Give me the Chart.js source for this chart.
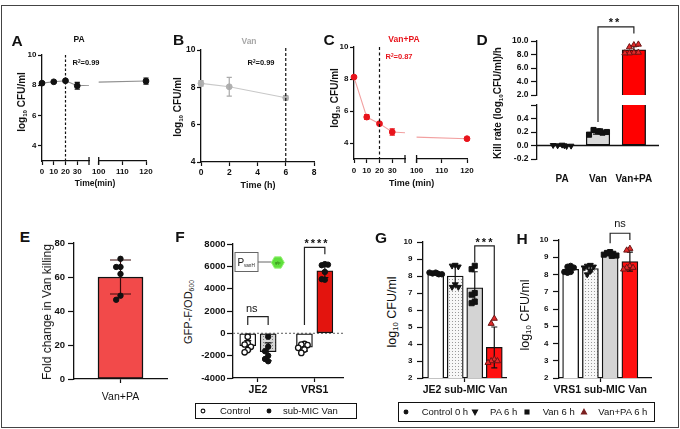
<!DOCTYPE html>
<html>
<head>
<meta charset="utf-8">
<title>Figure</title>
<script src="https://cdn.jsdelivr.net/npm/chart.js@4.4.1/dist/chart.umd.min.js"></script>
<style>
html, body { margin: 0; padding: 0; background: #fff; }
#fig { position: relative; width: 680px; height: 429px; overflow: hidden; background: #fff;
  font-family: 'Liberation Sans', Arial, sans-serif; color: #111; }
#fig canvas { position: absolute; }
.t { position: absolute; white-space: nowrap; line-height: 1; transform: translate(-50%, -50%); }
.t.r { transform: translate(-50%, -50%) rotate(-90deg); }
.l { position: absolute; white-space: nowrap; line-height: 1; transform: translateY(-50%); font-size: 9.5px; }
sub { font-size: 0.62em; vertical-align: baseline; position: relative; top: 0.28em; }
sup { font-size: 0.62em; vertical-align: baseline; position: relative; top: -0.45em; }
.frame { position: absolute; left: 1px; top: 5px; width: 678px; height: 423px; border: 1px solid #444; box-sizing: border-box; }
.legend { position: absolute; border: 1.5px solid #111; box-sizing: border-box; }
</style>
</head>
<body>
<div id="fig"><div class="frame"></div></div>
<script>
// ================= DATA =================
// A: PA alone
const timeA = [0, 10, 20, 30, 120];
const logCfuA = [8.14, 8.23, 8.3, 7.97, 8.28];
const sdA = [0.05, 0.05, 0.08, 0.22, 0.2];
// B: Van alone
const timeB = [0, 2, 6];
const logCfuB = [8.21, 8.03, 7.44];
const sdB = [0.15, 0.5, 0.12];
// C: Van+PA
const timeC = [0, 10, 20, 30, 120];
const logCfuC = [8.12, 5.62, 5.21, 4.69, 4.27];
const sdC = [0.06, 0.15, 0.08, 0.2, 0.08];
// D: kill rate
const killGroups = ['PA', 'Van', 'Van+PA'];
const killMean = [0.0, 0.2, 8.7];
const killSD = [0.01, 0.03, 0.55];
const killPA = [0.01, 0.0, -0.01, 0.005, -0.005, 0.0];
const killVan = [0.21, 0.23, 0.19, 0.16, 0.2, 0.21];
const killVanPA = [9.4, 9.1, 9.5, 8.3, 8.2, 8.3, 8.2];
// E: fold change
const foldGroup = ['Van+PA'];
const foldMean = [60];
const foldSD = [10];
const foldPts = [70.7, 65.9, 65.9, 61.8, 49, 46.6];
// F: GFP reporter
const strains = ['JE2', 'VRS1'];
const gfpControlMean = [-1100, -1250];
const gfpSubMicMean = [-1650, 5600];
const gfpControlSD = [450, 350];
const gfpSubMicSD = [800, 600];
const gfpJE2Control = [-300, -900, -1000, -1200, -1500, -1700];
const gfpJE2SubMic = [-300, -1200, -1600, -2000, -2300, -2500];
const gfpVRS1Control = [-950, -1000, -1050, -1300, -1450, -1750];
const gfpVRS1SubMic = [6200, 6100, 6150, 4800, 4850, 5500];
// G, H: 6 h counts
const treatments = ['Control 0 h', 'PA 6 h', 'Van 6 h', 'Van+PA 6 h'];
const groupLabelG = ['JE2 sub-MIC Van'];
const groupLabelH = ['VRS1 sub-MIC Van'];
const je2Mean = [8.15, 8.0, 7.3, 3.8];
const je2SD = [0.05, 0.6, 0.95, 1.2];
const je2Control = [8.2, 8.15, 8.1, 8.2, 8.1, 8.15];
const je2PA = [8.65, 8.6, 8.55, 7.5, 7.35, 7.35];
const je2Van = [8.6, 8.4, 7.0, 6.9, 6.5, 6.4];
const je2VanPA = [5.5, 5.2, 3.1, 3.0, 3.0, 2.9];
const vrs1Mean = [8.3, 8.35, 9.18, 8.75];
const vrs1SD = [0.18, 0.2, 0.1, 0.55];
const vrs1Control = [8.5, 8.45, 8.4, 8.15, 8.15, 8.1];
const vrs1PA = [8.55, 8.5, 8.45, 8.4, 8.2, 8.0];
const vrs1Van = [9.3, 9.25, 9.2, 9.15, 9.1, 9.08];
const vrs1VanPA = [9.5, 9.4, 8.5, 8.4, 8.4, 8.3];
// tick values
const ticksLogCfu = [4, 6, 8, 10];
const ticksMinEarly = [0, 10, 20, 30];
const ticksMinLate = [100, 110, 120];
const ticksHours = [0, 2, 4, 6, 8];
const ticksKillHigh = [2, 4, 6, 8, 10];
const ticksKillLow = [-0.2, 0, 0.2, 0.4];
const ticksFold = [0, 20, 40, 60, 80];
const ticksGfp = [-4000, -2000, 0, 2000, 4000, 6000, 8000];
const ticksLogCfu2 = [2, 3, 4, 5, 6, 7, 8, 9, 10];

// ================= RENDERING =================
const FIG = document.getElementById('fig');
Chart.defaults.font.family = "'Liberation Sans', Arial, sans-serif";
Chart.defaults.color = '#111';

function axis(min, max, ticks, o = {}) {
  return {
    type: 'linear', min, max, bounds: 'data', offset: false,
    display: o.display !== false,
    border: { display: o.border !== false, color: '#111', width: 1.3 },
    grid: { display: o.grid !== false, drawOnChartArea: false, drawTicks: true, offset: false,
      tickLength: o.tl ?? 4, tickColor: '#111', tickWidth: 1.2, color: '#111' },
    ticks: {
      autoSkip: false, maxRotation: 0, minRotation: 0, padding: o.pad ?? 2, color: '#111',
      font: { size: o.fs || 8, weight: o.fw || 'bold' },
      callback: (v, i) => o.labels ? o.labels[i] : (o.fmt ? o.fmt(v) : String(v)),
    },
    afterBuildTicks: s => { s.ticks = ticks.map(value => ({ value })); },
  };
}

function drawRefLines(chart, lines) {
  if (!lines) return;
  const { ctx, chartArea: a, scales: { x, y } } = chart;
  lines.forEach(L => {
    ctx.save();
    ctx.strokeStyle = L.color || '#111'; ctx.lineWidth = L.width || 1; ctx.setLineDash(L.dash || []);
    ctx.beginPath();
    if (L.x !== undefined) { const px = x.getPixelForValue(L.x); ctx.moveTo(px, a.top - (L.ext || 0)); ctx.lineTo(px, a.bottom); }
    else { const py = y.getPixelForValue(L.y); ctx.moveTo(a.left, py); ctx.lineTo(a.right, py); }
    ctx.stroke(); ctx.restore();
  });
}
function drawErrors(chart, ds) {
  if (!ds || !ds.errors) return;
  const { ctx, scales: { x, y } } = chart;
  ctx.save(); ctx.strokeStyle = ds.errColor || '#111'; ctx.lineWidth = ds.errWidth || 1.2;
  ds.data.forEach((d, i) => {
    if (d.x < x.min || d.x > x.max || d.y < y.min || d.y > y.max) return;
    const e = ds.errors[i]; if (!e) return;
    const px = x.getPixelForValue(d.x);
    const y1 = y.getPixelForValue(d.y + e), y2 = y.getPixelForValue(d.y - e);
    const c = ds.capW || 3;
    ctx.beginPath();
    ctx.moveTo(px, y1); ctx.lineTo(px, y2);
    ctx.moveTo(px - c, y1); ctx.lineTo(px + c, y1);
    ctx.moveTo(px - c, y2); ctx.lineTo(px + c, y2);
    ctx.stroke();
  });
  ctx.restore();
}
function drawCaps(chart, caps) {
  if (!caps) return;
  const { ctx, chartArea: a } = chart;
  ctx.save(); ctx.strokeStyle = '#111'; ctx.lineWidth = 1.3;
  caps.forEach(side => {
    const px = side === 'left' ? a.left : a.right;
    ctx.beginPath(); ctx.moveTo(px, a.bottom - 4); ctx.lineTo(px, a.bottom + 4); ctx.stroke();
  });
  ctx.restore();
}
function drawBrackets(chart, list) {
  if (!list) return;
  const { ctx, scales: { x, y } } = chart;
  ctx.save(); ctx.strokeStyle = '#222'; ctx.lineWidth = 1.2;
  list.forEach(b => {
    const x1 = x.getPixelForValue(b.x1), x2 = x.getPixelForValue(b.x2), yt = y.getPixelForValue(b.top);
    ctx.beginPath();
    ctx.moveTo(x1, y.getPixelForValue(b.yl)); ctx.lineTo(x1, yt); ctx.lineTo(x2, yt); ctx.lineTo(x2, y.getPixelForValue(b.yr));
    ctx.stroke();
  });
  ctx.restore();
}
function deco(spec) {
  return {
    id: 'deco',
    beforeDatasetsDraw(chart) { drawRefLines(chart, spec.under); },
    afterDatasetDraw(chart, args) { drawErrors(chart, chart.data.datasets[args.index]); },
    afterDatasetsDraw(chart) { drawRefLines(chart, spec.over); drawCaps(chart, spec.caps); },
    afterDraw(chart) { drawBrackets(chart, spec.brackets); },
  };
}

// area = chart area in page pixels; pad = room around it (left = y-axis width, bottom = x-axis height)
function mk(area, pad, scales, datasets, spec) {
  const W = Math.round(area.r - area.l + pad.l + pad.r);
  const H = Math.round(area.b - area.t + pad.t + pad.b);
  const cv = document.createElement('canvas');
  cv.width = W; cv.height = H;
  cv.style.left = (area.l - pad.l) + 'px'; cv.style.top = (area.t - pad.t) + 'px';
  cv.style.width = W + 'px'; cv.style.height = H + 'px';
  FIG.appendChild(cv);
  const xShow = scales.x.display !== false, yShow = scales.y.display !== false;
  if (xShow) scales.x.afterFit = s => { s.height = pad.b; };
  if (yShow) scales.y.afterFit = s => { s.width = pad.l; };
  return new Chart(cv, {
    type: 'scatter',
    data: { datasets },
    options: {
      responsive: false, animation: false, events: [],
      layout: { padding: { left: yShow ? 0 : pad.l, right: pad.r, top: pad.t, bottom: xShow ? 0 : pad.b } },
      scales,
      plugins: { legend: { display: false }, tooltip: { enabled: false } },
    },
    plugins: [deco(spec || {})],
  });
}

function lineDs(xs, ys, sd, col, clip) {
  return {
    type: 'line', data: xs.map((x, i) => ({ x, y: ys[i] })), order: 1, clip,
    borderColor: col.line, borderWidth: 1.1, tension: 0, fill: false,
    pointStyle: 'circle', pointRadius: 2.9, pointBackgroundColor: col.pt, pointBorderColor: col.pt, pointBorderWidth: 1,
    errors: sd, errColor: col.err, capW: 2.6,
  };
}
function barsDs(pts, colors, sd, o = {}) {
  return Object.assign({
    type: 'bar', data: pts, backgroundColor: colors, borderColor: '#111', borderWidth: 1.3,
    borderSkipped: false, barThickness: 16, order: 5, clip: 0, errors: sd, errColor: '#111', capW: 3.5,
  }, o);
}
function ptsDs(pts, style) {
  return Object.assign({ type: 'scatter', data: pts, order: 1, clip: 6, pointRadius: 2.7, pointBorderWidth: 1 }, style);
}
// simple dot-plot layout: points with similar values are spread sideways
function swarm(vals, cx, step, tolY, maxK = 4) {
  const placed = [];
  return vals.map((v, i) => {
    let x = null;
    for (let k = 0; k <= maxK; k++) {
      const c = cx + (k === 0 ? 0 : (k % 2 ? -1 : 1) * Math.ceil(k / 2) * step);
      if (!placed.some(p => Math.abs(p.x - c) < step * 0.95 && Math.abs(p.y - v) < tolY)) { x = c; break; }
    }
    if (x === null) x = cx + ((i % 3) - 1) * step * 0.5;
    placed.push({ x, y: v });
    return { x, y: v };
  });
}
function dotPattern(bg, dot, size) {
  const c = document.createElement('canvas'); c.width = c.height = size;
  const g = c.getContext('2d'); g.fillStyle = bg; g.fillRect(0, 0, size, size);
  g.fillStyle = dot; g.fillRect(0, 0, 1, 1);
  return g.createPattern(c, 'repeat');
}
const ST = {
  dot: { pointStyle: 'circle', pointBackgroundColor: '#111', pointBorderColor: '#111' },
  ring: { pointStyle: 'circle', pointBackgroundColor: '#fff', pointBorderColor: '#111', pointBorderWidth: 1.3 },
  triDown: { pointStyle: 'triangle', pointRotation: 180, pointRadius: 3.3, pointBackgroundColor: '#111', pointBorderColor: '#111' },
  square: { pointStyle: 'rect', pointRadius: 3.6, pointBackgroundColor: '#111', pointBorderColor: '#111' },
  triRed: { pointStyle: 'triangle', pointRadius: 3.5, pointBackgroundColor: '#e42a2a', pointBorderColor: '#6a1414' },
};

// ---------- A ----------
const colA = { line: '#8f8f8f', pt: '#111', err: '#111' };
mk({ l: 41.7, r: 89.7, t: 55, b: 161 }, { l: 30, t: 12, r: 4, b: 22 },
  { x: axis(0, 40, ticksMinEarly, { fs: 8, pad: 2 }), y: axis(3, 10, ticksLogCfu, { fs: 8, pad: 1.5 }) },
  [lineDs(timeA, logCfuA, sdA, colA, { left: 8, top: 8, right: 0, bottom: 8 })],
  { over: [{ x: 20, dash: [2.5, 2], width: 1.2 }], caps: ['right'] });
mk({ l: 98.3, r: 146.7, t: 55, b: 161 }, { l: 8, t: 12, r: 12, b: 22 },
  { x: axis(100, 120, ticksMinLate, { fs: 8, pad: 2 }), y: axis(3, 10, ticksLogCfu, { display: false }) },
  [lineDs(timeA, logCfuA, sdA, colA, { left: 0, top: 8, right: 8, bottom: 8 })],
  { caps: ['left'] });

// ---------- B ----------
const colB = { line: '#c8c8c8', pt: '#b0b0b0', err: '#aaaaaa' };
mk({ l: 201, r: 313.5, t: 50, b: 161.7 }, { l: 26, t: 12, r: 12, b: 22 },
  { x: axis(0, 8, ticksHours, { fs: 8.5, pad: 1.2 }), y: axis(4, 10, ticksLogCfu, { fs: 8.5, pad: 1.5 }) },
  [lineDs(timeB, logCfuB, sdB, colB, 8)],
  { over: [{ x: 6, dash: [3, 2], width: 1.2, ext: 2 }] });

// ---------- C ----------
const colC = { line: '#f2a0a0', pt: '#e8141c', err: '#e8141c' };
mk({ l: 354, r: 406.4, t: 46.7, b: 158.3 }, { l: 25, t: 12, r: 4, b: 22 },
  { x: axis(0, 40, ticksMinEarly, { fs: 8, pad: 2.9 }), y: axis(3, 10, ticksLogCfu, { fs: 8, pad: 1.5 }) },
  [lineDs(timeC, logCfuC, sdC, colC, { left: 8, top: 8, right: 0, bottom: 8 })],
  { over: [{ x: 20, dash: [3, 2.5], width: 1.2 }], caps: ['right'] });
mk({ l: 415, r: 467.3, t: 46.7, b: 158.3 }, { l: 8, t: 12, r: 12, b: 22 },
  { x: axis(100, 120, ticksMinLate, { fs: 8, pad: 2.9 }), y: axis(3, 10, ticksLogCfu, { display: false }) },
  [lineDs(timeC, logCfuC, sdC, colC, { left: 0, top: 8, right: 8, bottom: 8 })],
  { caps: ['left'] });

// ---------- D (broken y axis: two stacked charts) ----------
const killIdx = killGroups.map((g, i) => i);
const killBarsData = killMean.map((v, i) => ({ x: i, y: v }));
const killColors = ['#ffffff', '#d9d9d9', '#ff0000'];
function killDatasets(skip) {
  return [
    barsDs(killBarsData, killColors, killSD, { barThickness: 23.5, borderSkipped: skip, capW: 5 }),
    ptsDs(swarm(killPA, 0, 0.125, 0.09), ST.triDown),
    ptsDs(swarm(killVan, 1, 0.125, 0.09), ST.square),
    ptsDs(swarm(killVanPA, 2, 0.125, 0.9), ST.triRed),
  ];
}
mk({ l: 536.7, r: 658.3, t: 40.7, b: 94.7 }, { l: 34, t: 26, r: 12, b: 32 },
  { x: axis(-0.7, 2.7, killIdx, { display: false }),
    y: axis(2, 10, ticksKillHigh, { fs: 8.5, tl: 6, pad: 2.5, fmt: v => v.toFixed(1) }) },
  killDatasets('start'),
  { brackets: [{ x1: 1, x2: 2, yl: -2.0, yr: 11.1, top: 12.1 }] });
mk({ l: 536.7, r: 658.3, t: 105.3, b: 158.9 }, { l: 34, t: 8, r: 12, b: 26 },
  { x: axis(-0.7, 2.7, killIdx, { labels: killGroups, grid: false, border: false, fs: 10, pad: 10 }),
    y: axis(-0.2, 0.6, [...ticksKillLow, 0.6], { fs: 8.5, tl: 6, pad: 2.5, fmt: v => v > 0.5 ? '' : v.toFixed(1) }) },
  killDatasets(false),
  { over: [{ y: 0, width: 1.3 }] });

// ---------- E ----------
mk({ l: 74, r: 166.7, t: 243.3, b: 379.3 }, { l: 26, t: 10, r: 10, b: 30 },
  { x: axis(-1, 1, [0], { labels: foldGroup, fs: 10.5, fw: 'normal', pad: 7.4 }),
    y: axis(0, 80, ticksFold, { fs: 9.5, tl: 6, pad: 3 }) },
  [barsDs(foldMean.map((v, i) => ({ x: i, y: v })), ['#f24a4a'], foldSD, { barThickness: 45, capW: 10.5, errColor: '#3b0b0b', borderWidth: 1.5 }),
   ptsDs(swarm(foldPts, 0, 0.093, 3), ST.dot)], {});

// ---------- F ----------
const OFF = 0.18;
const gfpBars = [], gfpErr = [];
strains.forEach((s, i) => {
  gfpBars.push({ x: i - OFF, y: gfpControlMean[i] }, { x: i + OFF, y: gfpSubMicMean[i] });
  gfpErr.push(gfpControlSD[i], gfpSubMicSD[i]);
});
const grayDots = dotPattern('#d6d6d6', '#7a7a7a', 3);
mk({ l: 233.3, r: 343.3, t: 244.3, b: 378 }, { l: 36, t: 16, r: 10, b: 22 },
  { x: axis(-0.44, 1.5, [0, 1], { labels: strains, fs: 10.5, pad: 1.7 }),
    y: axis(-4000, 8000, ticksGfp, { fs: 9.5, tl: 6, pad: 1.5 }) },
  [barsDs(gfpBars, ['#ffffff', grayDots, '#ffffff', '#e3140e'], gfpErr, { capW: 3.5 }),
   ptsDs(swarm(gfpJE2Control, -OFF, 0.055, 480), ST.ring),
   ptsDs(swarm(gfpJE2SubMic, OFF, 0.055, 480), ST.dot),
   ptsDs(swarm(gfpVRS1Control, 1 - OFF, 0.055, 480), ST.ring),
   ptsDs(swarm(gfpVRS1SubMic, 1 + OFF, 0.055, 480), ST.dot)],
  { under: [{ y: 0, dash: [2, 2], color: '#777', width: 1.2 }],
    brackets: [{ x1: -OFF, x2: OFF, yl: 750, yr: 750, top: 1500 },
               { x1: 1 - OFF, x2: 1 + OFF, yl: 750, yr: 7080, top: 7700 }] });

// ---------- G & H ----------
const lightDots = dotPattern('#f7f7f7', '#9a9a9a', 3);
const ghColors = ['#ffffff', lightDots, '#d4d4d4', '#ff1010'];
function ghDatasets(means, sd, ctl, pa, van, vanpa) {
  return [
    barsDs(means.map((v, i) => ({ x: i, y: v })), ghColors, sd, { capW: 3 }),
    ptsDs(swarm(ctl, 0, 0.16, 0.3), ST.dot),
    ptsDs(swarm(pa, 1, 0.16, 0.3), ST.triDown),
    ptsDs(swarm(van, 2, 0.16, 0.3), ST.square),
    ptsDs(swarm(vanpa, 3, 0.16, 0.3), ST.triRed),
  ];
}
const ghCenter = [(treatments.length - 1) / 2];
mk({ l: 423.3, r: 506.7, t: 241.7, b: 377.7 }, { l: 22, t: 14, r: 10, b: 22 },
  { x: axis(-0.65, 3.6, ghCenter, { labels: groupLabelG, fs: 10.5, pad: 2 }),
    y: axis(2, 10, ticksLogCfu2, { fs: 8, tl: 6, pad: 4.5 }) },
  ghDatasets(je2Mean, je2SD, je2Control, je2PA, je2Van, je2VanPA),
  { brackets: [{ x1: 2, x2: 3, yl: 8.8, yr: 5.69, top: 9.77 }] });
mk({ l: 559.3, r: 651.7, t: 240, b: 377.7 }, { l: 22, t: 30, r: 12, b: 22 },
  { x: axis(-0.59, 4.07, ghCenter, { labels: groupLabelH, fs: 10.5, pad: 2 }),
    y: axis(2, 10, ticksLogCfu2, { fs: 8, tl: 6, pad: 4.5 }) },
  ghDatasets(vrs1Mean, vrs1SD, vrs1Control, vrs1PA, vrs1Van, vrs1VanPA),
  { brackets: [{ x1: 2, x2: 3, yl: 9.81, yr: 10.0, top: 10.39 }] });

// ================= TEXT / ANNOTATIONS =================
function label(html, x, y, style, cls = 't') {
  const d = document.createElement('div');
  d.className = cls; d.innerHTML = html;
  d.style.left = x + 'px'; d.style.top = y + 'px';
  if (style) d.style.cssText += style;
  FIG.appendChild(d);
  return d;
}
[['A', 17, 41], ['B', 178.5, 40], ['C', 329, 40], ['D', 482, 40],
 ['E', 25, 237], ['F', 180, 237], ['G', 381, 238], ['H', 522, 239]]
  .forEach(([s, x, y]) => label(s, x, y, 'font-weight:bold;font-size:15.5px;'));

const B85 = 'font-weight:bold;font-size:8.5px;';
label('PA', 79, 38.5, B85);
label('Van', 249, 41, B85 + 'color:#a8a8a8;');
label('Van+PA', 404, 38.5, B85 + 'color:#e8141c;');
const R2 = 'font-weight:bold;font-size:7.5px;';
label('R<sup>2</sup>=0.99', 86, 62.7, R2);
label('R<sup>2</sup>=0.99', 261, 62.7, R2);
label('R<sup>2</sup>=0.87', 399, 56.7, R2 + 'color:#e8141c;');

const logTitle = 'log<sub>10</sub> CFU/ml';
label(logTitle, 21.7, 102, 'font-weight:bold;font-size:10px;', 't r');
label('Time(min)', 95, 183, 'font-weight:bold;font-size:8.5px;');
label(logTitle, 178.3, 106.7, 'font-weight:bold;font-size:10px;', 't r');
label('Time (h)', 258, 185, 'font-weight:bold;font-size:9px;');
label(logTitle, 335, 98.3, 'font-weight:bold;font-size:10px;', 't r');
label('Time (min)', 411.7, 183.3, 'font-weight:bold;font-size:9px;');
label('Kill rate (log<sub>10</sub>CFU/ml)/h', 498, 103, 'font-weight:bold;font-size:10px;', 't r');
label('Fold change in Van killing', 46.7, 311.7, 'font-size:12px;', 't r');
label('GFP-F/OD<sub>600</sub>', 188.3, 311.7, 'font-size:11px;', 't r');
label(logTitle, 391.7, 311.7, 'font-size:12.5px;', 't r');
label(logTitle, 525, 315, 'font-size:12.5px;', 't r');

const STAR = 'font-weight:bold;font-size:11px;letter-spacing:2px;';
label('**', 615, 22, STAR);
label('****', 317, 242.5, STAR);
label('***', 485, 241.8, STAR);
label('ns', 251.7, 308.3, 'font-size:11px;');
label('ns', 620, 223.3, 'font-size:11px;');

// legends
function legendBox(l, t, w, h) {
  const d = document.createElement('div'); d.className = 'legend';
  d.style.cssText += `left:${l}px;top:${t}px;width:${w}px;height:${h}px;`;
  FIG.appendChild(d);
}
function marker(shape, x, y, fill, stroke) {
  const ns = 'http://www.w3.org/2000/svg';
  const svg = document.createElementNS(ns, 'svg');
  svg.setAttribute('width', 8); svg.setAttribute('height', 8);
  svg.style.cssText = `position:absolute;left:${x - 4}px;top:${y - 4}px;overflow:visible;`;
  let el;
  if (shape === 'circle') { el = document.createElementNS(ns, 'circle'); el.setAttribute('cx', 4); el.setAttribute('cy', 4); el.setAttribute('r', 1.9); }
  else if (shape === 'square') { el = document.createElementNS(ns, 'rect'); el.setAttribute('x', 2); el.setAttribute('y', 2); el.setAttribute('width', 4); el.setAttribute('height', 4); }
  else { el = document.createElementNS(ns, 'polygon'); el.setAttribute('points', shape === 'triUp' ? '4,1.2 6.6,6 1.4,6' : '1.4,2 6.6,2 4,6.8'); }
  el.setAttribute('fill', fill); el.setAttribute('stroke', stroke); el.setAttribute('stroke-width', 1.1);
  svg.appendChild(el); FIG.appendChild(svg);
}
legendBox(195, 402.7, 161.7, 16.6);
marker('circle', 203.3, 411, '#fff', '#111');
label('Control', 220, 411, '', 'l');
marker('circle', 269, 411, '#111', '#111');
label('sub-MIC Van', 283, 411, '', 'l');

legendBox(398.3, 401.7, 256.7, 20);
const ghLegendMarks = [['circle', 406, '#111', '#111'], ['triDown', 475, '#111', '#111'],
  ['square', 526.7, '#111', '#111'], ['triUp', 584.3, '#7a1f1f', '#7a1f1f']];
const ghLegendText = [421.7, 490, 542.7, 598.3];
treatments.forEach((t, i) => {
  const m = ghLegendMarks[i];
  marker(m[0], m[1], 411.7, m[2], m[3]);
  label(t, ghLegendText[i], 411.7, '', 'l');
});

// F inset: PvanH promoter -> gfp
const inset = document.createElement('div');
inset.style.cssText = 'position:absolute;left:230px;top:247px;width:60px;height:30px;';
inset.innerHTML = `<svg width="60" height="30" xmlns="http://www.w3.org/2000/svg" style="overflow:visible">
  <rect x="5" y="5.5" width="23" height="19" fill="#fff" stroke="#666" stroke-width="1"/>
  <text x="7.5" y="19" font-family="Liberation Sans, Arial" font-size="10" fill="#222">P</text>
  <text x="14" y="20" font-family="Liberation Sans, Arial" font-size="4.6" fill="#222">vanH</text>
  <line x1="28" y1="15" x2="41.3" y2="15" stroke="#666" stroke-width="1"/>
  <polygon points="54.3,15.5 51.05,21.13 44.55,21.13 41.3,15.5 44.55,9.87 51.05,9.87" fill="#5fe03c" stroke="#9af27a" stroke-width="1"/>
  <text x="47.8" y="16.8" text-anchor="middle" font-family="Liberation Sans, Arial" font-size="4" fill="#2a6a10">gfp</text>
</svg>`;
FIG.appendChild(inset);
</script>
</body>
</html>
